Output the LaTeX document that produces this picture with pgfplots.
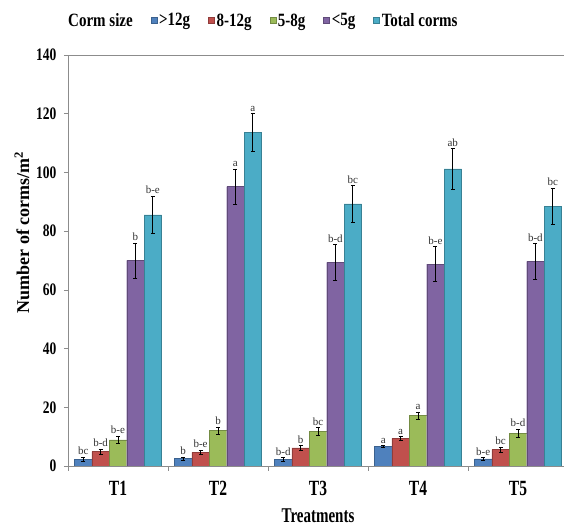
\documentclass[border=0pt]{standalone}
\usepackage{fontspec}
\setmainfont{Liberation Serif}
\usepackage{graphicx}
\usepackage{pgfplots}
\pgfplotsset{compat=1.18}
\usepackage{pgfplotstable}
\definecolor{cA}{HTML}{4F81BD}
\definecolor{cB}{HTML}{C0504D}
\definecolor{cC}{HTML}{9BBB59}
\definecolor{cD}{HTML}{8064A2}
\definecolor{cE}{HTML}{4BACC6}
\definecolor{axgray}{HTML}{8C8C8C}
\newcommand{\tall}[2][1.25]{\scalebox{1}[#1]{#2}}

\pgfplotstableread{
x y e lab
1 2.3 0.7 bc
2 2.5 0.5 b
3 2.3 0.6 b-d
4 6.6 0.3 a
5 2.4 0.5 b-e
}\tA
\pgfplotstableread{
x y e lab
1 4.9 0.8 b-d
2 4.6 0.8 b-e
3 6.2 0.8 b
4 9.4 0.7 a
5 5.6 0.8 bc
}\tB
\pgfplotstableread{
x y e lab
1 8.9 1.3 b-e
2 12.1 1.2 b
3 11.8 1.2 bc
4 17.2 1.2 a
5 11.1 1.5 b-d
}\tC
\pgfplotstableread{
x y e lab
1 70.0 6.0 b
2 95.2 6.0 a
3 69.4 6.0 b-d
4 68.8 5.9 b-e
5 69.7 6.0 b-d
}\tD
\pgfplotstableread{
x y e lab
1 85.5 6.4 b-e
2 113.6 6.5 a
3 89.3 6.2 bc
4 101.2 7.0 ab
5 88.5 6.1 bc
}\tE

\begin{document}
\begin{tikzpicture}
\useasboundingbox (-68pt,-60pt) rectangle (496pt,466pt);
\begin{axis}[
  scale only axis,
  width=500pt, height=411pt,
  ybar=0pt, bar width=0.174,
  xmin=0.5, xmax=5.5, ymin=0, ymax=140,
  enlarge x limits=false,
  axis x line*=bottom, axis y line*=left,
  axis line style={draw=axgray, line width=0.6pt},
  xtick={1,2,3,4,5},
  xticklabels={\tall[1.4]{T1},\tall[1.4]{T2},\tall[1.4]{T3},\tall[1.4]{T4},\tall[1.4]{T5}},
  major x tick style={draw=none},
  extra x ticks={0.5,1.5,2.5,3.5,4.5,5.5},
  extra x tick labels={},
  extra x tick style={major x tick style={draw=axgray, line width=0.6pt}, major tick length=5pt, tick align=outside},
  ytick={0,20,...,140},
  yticklabel={\tall[1.3]{\pgfmathprintnumber{\tick}}},
  ytick style={draw=axgray, line width=0.6pt},
  tick align=outside, major tick length=4pt,
  /pgf/number format/assume math mode=true,
  yticklabel style={font=\bfseries\fontsize{13.5}{13.5}\selectfont, xshift=-4pt},
  xticklabel style={font=\bfseries\fontsize{15.5}{15.5}\selectfont, yshift=-8pt},
  xlabel={\tall[1.4]{Treatments}},
  ylabel={Number of corms/m\textsuperscript{2}},
  xlabel style={font=\bfseries\fontsize{15}{15}\selectfont, at={(axis description cs:0.5,-0.12)}, anchor=center},
  ylabel style={font=\bfseries\fontsize{18}{18}\selectfont, at={(axis description cs:-0.092,0.569)}, anchor=center},
  legend style={at={(axis description cs:0,1)}, anchor=south west, yshift=23pt, xshift=-5pt,
    draw=none, fill=none, font=\bfseries\fontsize{15}{15}\selectfont,
    /tikz/every even column/.append style={column sep=16pt}},
  legend columns=-1,
  legend image code/.code={\fill[#1] (0pt,-3pt) rectangle (6pt,3pt);},
  error bars/y dir=both, error bars/y explicit,
  error bars/error bar style={black, line width=0.7pt},
  error bars/error mark options={rotate=90, mark size=2pt, black, line width=0.7pt},
  nodes near coords,
  point meta=explicit symbolic,
  visualization depends on={\thisrow{e}\as\err},
  every node near coord/.append style={shift={(axis direction cs:0,\err)}, anchor=south,
    font=\fontsize{11}{11}\selectfont, text=black!80, inner sep=2pt},
]
\addlegendimage{empty legend}
\addlegendentry{\tall{Corm size}\hspace{8pt}}
\addplot[fill=cA, draw=cA!75!black, line width=0.4pt] table[x=x, y=y, y error=e, meta=lab] {\tA};
\addlegendentry{\tall{>12g}}
\addplot[fill=cB, draw=cB!75!black, line width=0.4pt] table[x=x, y=y, y error=e, meta=lab] {\tB};
\addlegendentry{\tall{8-12g}}
\addplot[fill=cC, draw=cC!75!black, line width=0.4pt] table[x=x, y=y, y error=e, meta=lab] {\tC};
\addlegendentry{\tall{5-8g}}
\addplot[fill=cD, draw=cD!75!black, line width=0.4pt] table[x=x, y=y, y error=e, meta=lab] {\tD};
\addlegendentry{\tall{<5g}}
\addplot[fill=cE, draw=cE!75!black, line width=0.4pt] table[x=x, y=y, y error=e, meta=lab] {\tE};
\addlegendentry{\tall{Total corms}}
\draw[axgray, line width=0.8pt] (rel axis cs:0,1) -- (rel axis cs:1,1);
\end{axis}
\end{tikzpicture}
\end{document}
